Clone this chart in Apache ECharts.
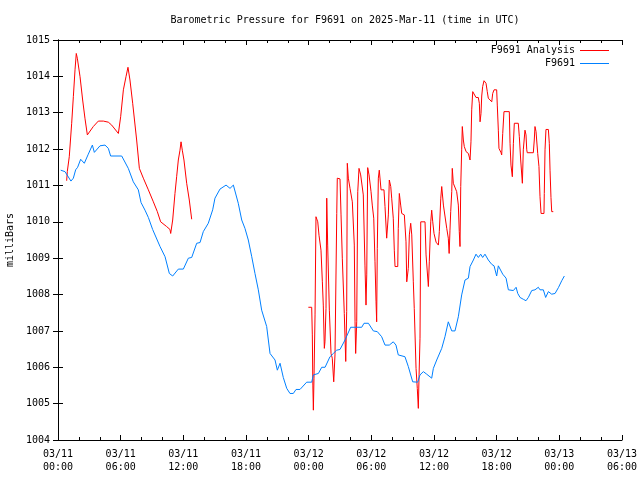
<!DOCTYPE html>
<html>
<head>
<meta charset="utf-8">
<script src="https://cdn.jsdelivr.net/npm/echarts@6/dist/echarts.min.js"></script>
<style>html,body{margin:0;padding:0;background:#fff;}#c{width:640px;height:480px;}</style>
</head>
<body>
<div id="c"></div>
<script>
// Hours since 2025-03-11 00:00 UTC
var xTickHours = [0, 6, 12, 18, 24, 30, 36, 42, 48, 54];
var yTicks = [1004, 1005, 1006, 1007, 1008, 1009, 1010, 1011, 1012, 1013, 1014, 1015];

var blueHours = [0.26,0.67,1.24,1.47,1.69,1.88,2.17,2.52,2.9,3.29,3.48,4.02,4.5,4.82,5.04,6.1,6.73,7.21,7.69,7.95,8.33,8.65,8.81,9.06,9.77,10.25,10.66,10.98,11.52,12.0,12.48,12.8,13.28,13.6,13.91,14.39,14.81,15.03,15.51,16.09,16.47,16.79,17.26,17.59,17.9,18.22,18.55,18.86,19.18,19.5,19.98,20.3,20.78,21.0,21.26,21.57,21.9,22.21,22.53,22.79,23.17,23.81,24.29,24.45,24.93,25.25,25.57,26.04,26.36,26.68,27.0,27.48,28.02,29.08,29.3,29.72,30.19,30.57,30.99,31.31,31.72,32.1,32.36,32.58,33.22,33.54,33.96,34.44,34.66,34.98,35.3,35.78,35.94,36.26,36.74,37.05,37.37,37.7,38.01,38.33,38.65,38.97,39.29,39.45,39.77,40.02,40.25,40.47,40.66,40.88,41.2,41.53,41.75,42.0,42.16,42.58,42.9,43.12,43.6,43.86,44.02,44.24,44.55,44.81,45.03,45.36,45.67,45.99,46.15,46.47,46.69,46.95,47.27,47.59,47.91,48.23,48.48];
var bluePressure = [1011.42,1011.38,1011.12,1011.20,1011.43,1011.50,1011.72,1011.61,1011.86,1012.11,1011.91,1012.09,1012.11,1012.02,1011.81,1011.81,1011.47,1011.10,1010.88,1010.53,1010.32,1010.12,1010.10,1009.79,1009.32,1009.04,1008.58,1008.51,1008.70,1008.70,1009.00,1009.02,1009.41,1009.43,1009.73,1009.96,1010.33,1010.65,1010.90,1011.01,1010.92,1011.01,1010.51,1010.05,1009.82,1009.50,1009.04,1008.58,1008.13,1007.57,1007.12,1006.38,1006.20,1005.92,1006.11,1005.72,1005.42,1005.28,1005.28,1005.39,1005.39,1005.59,1005.59,1005.79,1005.83,1006.00,1006.00,1006.29,1006.38,1006.47,1006.49,1006.75,1007.10,1007.10,1007.21,1007.21,1007.00,1006.98,1006.84,1006.61,1006.61,1006.70,1006.61,1006.34,1006.29,1006.02,1005.60,1005.59,1005.79,1005.88,1005.81,1005.70,1005.97,1006.20,1006.52,1006.84,1007.25,1007.00,1007.00,1007.39,1007.99,1008.40,1008.45,1008.77,1008.95,1009.11,1009.02,1009.11,1009.02,1009.11,1008.95,1008.83,1008.79,1008.51,1008.79,1008.56,1008.45,1008.13,1008.11,1008.20,1008.03,1007.92,1007.87,1007.83,1007.92,1008.11,1008.13,1008.20,1008.13,1008.13,1007.92,1008.08,1008.01,1008.03,1008.19,1008.38,1008.51];

var analysisHours = [0.83,0.89,1.08,1.31,1.47,1.63,1.75,1.85,2.11,2.36,2.58,2.81,2.94,3.38,3.86,4.34,4.82,5.14,5.78,6.0,6.26,6.51,6.7,6.89,7.15,7.53,7.79,8.17,8.65,9.13,9.51,9.83,10.4,10.72,10.79,10.98,11.2,11.36,11.52,11.68,11.78,11.9,12.06,12.32,12.57,12.8,
  18,
  23.97,24.29,24.35,24.4,24.45,24.51,24.61,24.7,24.87,24.99,25.18,25.31,25.4,25.5,25.56,25.66,25.73,25.82,25.98,26.14,26.26,26.4,26.52,26.69,26.74,27.0,27.1,27.22,27.41,27.55,27.64,27.7,27.8,27.96,28.18,28.37,28.44,28.5,28.6,28.7,28.82,28.98,29.23,29.39,29.49,29.56,29.65,29.78,29.97,30.09,30.23,30.35,30.45,30.51,30.57,30.67,30.76,30.93,31.21,31.31,31.47,31.63,31.72,31.86,31.95,32.1,32.2,32.27,32.53,32.58,32.68,32.81,32.91,33.16,33.32,33.39,33.54,33.64,33.77,33.87,34.02,34.11,34.28,34.4,34.5,34.57,34.66,34.73,35.14,35.24,35.46,35.55,35.69,35.78,35.88,36.0,36.2,36.42,36.51,36.65,36.74,36.9,37.22,37.37,37.45,37.53,37.6,37.7,37.75,37.85,38.17,38.33,38.42,38.49,38.56,38.65,38.71,38.81,38.9,39.07,39.29,39.45,39.54,39.61,39.71,39.83,40.02,40.24,40.34,40.41,40.5,40.57,40.66,40.79,40.98,41.1,41.2,41.53,41.62,41.75,42.0,42.06,42.16,42.22,42.42,42.48,42.58,42.7,43.21,43.28,43.37,43.5,43.6,43.69,44.07,44.17,44.3,44.46,44.55,44.71,44.81,44.88,44.93,45.51,45.6,45.67,45.77,45.83,45.93,46.05,46.15,46.25,46.53,46.56,46.63,46.72,46.95,47.04,47.11,47.2,47.27,47.42];
var analysisPressure = [1011.13,1011.38,1011.79,1012.71,1013.44,1014.18,1014.63,1014.50,1013.99,1013.35,1012.85,1012.39,1012.43,1012.62,1012.77,1012.77,1012.74,1012.66,1012.43,1012.89,1013.63,1013.99,1014.25,1013.90,1013.26,1012.25,1011.47,1011.20,1010.88,1010.55,1010.28,1010.00,1009.87,1009.79,1009.68,1010.05,1010.78,1011.24,1011.70,1011.97,1012.20,1011.97,1011.70,1011.06,1010.60,1010.07,
  null,
  1007.65,1007.65,1006.89,1005.51,1004.82,1005.70,1007.44,1010.14,1010.00,1009.63,1009.22,1008.35,1007.71,1006.52,1006.70,1007.62,1010.65,1009.36,1007.57,1006.38,1006.25,1005.60,1006.34,1010.23,1011.20,1011.18,1010.19,1009.00,1007.48,1006.16,1007.53,1011.61,1011.20,1010.92,1010.55,1009.36,1007.25,1006.38,1007.25,1010.83,1011.47,1011.29,1010.74,1008.81,1007.71,1008.54,1011.49,1011.29,1010.83,1010.46,1010.10,1008.90,1007.80,1007.25,1009.27,1011.20,1011.42,1010.88,1010.88,1010.42,1009.55,1010.19,1011.15,1010.97,1010.65,1010.10,1009.22,1008.77,1008.77,1009.82,1010.78,1010.46,1010.23,1010.19,1009.45,1008.35,1008.72,1009.64,1009.96,1009.64,1008.35,1007.62,1005.97,1005.42,1004.87,1005.79,1006.80,1010.00,1010.00,1009.09,1008.22,1008.90,1010.00,1010.32,1010.00,1009.68,1009.44,1009.36,1009.73,1010.65,1010.97,1010.46,1009.82,1009.55,1009.13,1009.77,1010.28,1010.83,1011.47,1011.06,1010.83,1010.46,1009.73,1009.32,1010.97,1011.98,1012.62,1012.25,1012.07,1011.93,1011.88,1011.70,1012.20,1013.08,1013.58,1013.53,1013.42,1013.42,1013.26,1012.75,1012.98,1013.46,1013.72,1013.88,1013.81,1013.58,1013.40,1013.30,1013.53,1013.63,1013.63,1013.21,1012.52,1012.02,1011.90,1011.84,1012.43,1013.03,1013.03,1012.16,1011.56,1011.24,1012.16,1012.71,1012.71,1012.34,1011.70,1011.06,1011.98,1012.52,1012.39,1011.98,1011.90,1011.90,1012.25,1012.62,1012.48,1012.25,1011.88,1011.52,1010.69,1010.23,1010.23,1010.78,1011.98,1012.54,1012.54,1012.16,1011.42,1010.67,1010.28,1010.28];

function zip(a, b) { var r = []; for (var i = 0; i < a.length; i++) r.push([a[i], b[i]]); return r; }
function pad(n) { return (n < 10 ? '0' : '') + n; }
function fmtHour(h) {
  var day = 11 + Math.floor(h / 24);
  var hr = Math.round(h % 24);
  return '03/' + pad(day) + '\n' + pad(hr) + ':00';
}

var FONT = 'DejaVu Sans Mono';
var chart = echarts.init(document.getElementById('c'), null, { renderer: 'canvas' });

var axisLine = { show: true, lineStyle: { color: '#000', width: 1 } };
chart.setOption({
  animation: false,
  backgroundColor: '#fff',
  title: {
    text: 'Barometric Pressure for F9691 on 2025-Mar-11 (time in UTC)',
    left: 340, top: 10, textAlign: 'center',
    textStyle: { fontFamily: FONT, fontSize: 10, fontWeight: 'normal', color: '#000' }
  },
  legend: {
    orient: 'vertical', right: 26, top: 39, align: 'right',
    itemWidth: 29, itemHeight: 1, itemGap: 0,
    icon: 'rect',
    textStyle: { fontFamily: FONT, fontSize: 10, color: '#000', lineHeight: 13 },
    data: ['F9691 Analysis', 'F9691']
  },
  grid: { left: 58, right: 18, top: 40, bottom: 40, containLabel: false, outerBoundsMode: 'none' },
  xAxis: [{
    type: 'value', min: xTickHours[0], max: xTickHours[xTickHours.length - 1], interval: 6,
    axisLine: axisLine,
    axisTick: { show: true, inside: true, length: 5, lineStyle: { color: '#000' } },
    minorTick: { show: true, splitNumber: 3, length: 3, lineStyle: { color: '#000' } },
    splitLine: { show: false },
    axisLabel: {
      margin: 8, fontFamily: FONT, fontSize: 10, color: '#000', lineHeight: 13,
      showMinLabel: true, showMaxLabel: true, hideOverlap: false,
      formatter: function (v) { return xTickHours.indexOf(v) >= 0 ? fmtHour(v) : ''; }
    }
  }, {
    type: 'value', position: 'top', min: 0, max: 54, interval: 6,
    axisLine: axisLine,
    axisTick: { show: true, inside: true, length: 5, lineStyle: { color: '#000' } },
    minorTick: { show: true, splitNumber: 3, length: 3, lineStyle: { color: '#000' } },
    splitLine: { show: false }, axisLabel: { show: false }
  }],
  yAxis: [{
    type: 'value', min: yTicks[0], max: yTicks[yTicks.length - 1], interval: 1,
    name: 'milliBars', nameLocation: 'middle', nameGap: 43, nameRotate: 90,
    nameTextStyle: { fontFamily: FONT, fontSize: 10, color: '#000' },
    axisLine: axisLine,
    axisTick: { show: true, inside: true, length: 5, lineStyle: { color: '#000' } },
    splitLine: { show: false },
    axisLabel: { margin: 8, fontFamily: FONT, fontSize: 10, color: '#000',
      formatter: function (v) { return String(v); } }
  }, {
    type: 'value', position: 'right', min: 1004, max: 1015, interval: 1,
    axisLine: axisLine,
    axisTick: { show: true, inside: true, length: 5, lineStyle: { color: '#000' } },
    splitLine: { show: false }, axisLabel: { show: false }
  }],
  series: [{
    name: 'F9691 Analysis', type: 'line', xAxisIndex: 0, yAxisIndex: 0,
    data: zip(analysisHours, analysisPressure),
    showSymbol: false, symbol: 'none', connectNulls: false,
    itemStyle: { color: '#ff0000' },
    lineStyle: { color: '#ff0000', width: 1 }
  }, {
    name: 'F9691', type: 'line', xAxisIndex: 0, yAxisIndex: 0,
    data: zip(blueHours, bluePressure),
    showSymbol: false, symbol: 'none',
    itemStyle: { color: '#0080ff' },
    lineStyle: { color: '#0080ff', width: 1 }
  }]
});
</script>
</body>
</html>
